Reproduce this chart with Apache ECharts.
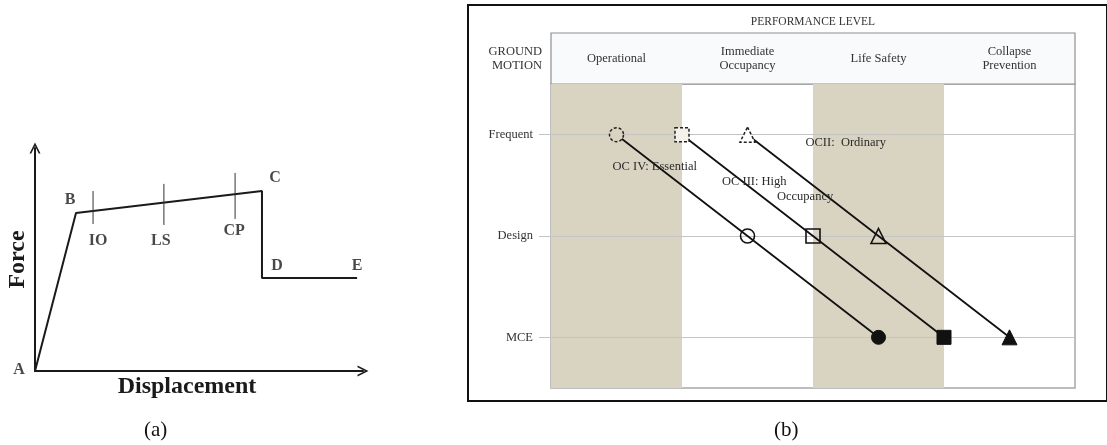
<!DOCTYPE html>
<html>
<head>
<meta charset="utf-8">
<script src="https://cdn.jsdelivr.net/npm/echarts@6/dist/echarts.min.js"></script>
<style>
    html, body { margin: 0; padding: 0; background: #fff; }
    #chart { width: 1107px; height: 445px; }
</style>
</head>
<body>
<div id="chart"></div>
<script>
// (a) force - displacement curve, axes run 0..10
const curveNames = ["A", "B", "C", "D", "E"];
const curveX = [0, 1.25, 6.92, 6.92, 9.82];
const curveY = [0, 7.09, 8.07, 4.17, 4.17];
const levelNames = ["IO", "LS", "CP"];
const levelX = [1.77, 3.93, 6.10];
const levelTop = [8.07, 8.39, 8.88];
const levelBottom = [6.59, 6.55, 6.82];

// (b) performance matrix
const perfLevels = ["Operational", "Immediate\nOccupancy", "Life Safety", "Collapse\nPrevention"];
const groundMotions = ["MCE", "Design", "Frequent"];
const objectiveNames = ["OC IV: Essential", "OC III: High Occupancy", "OCII:  Ordinary"];
// x position (in performance columns) for Frequent, Design, MCE
const essentialX = [0.5, 1.5, 2.5];
const highOccX = [1.0, 2.0, 3.0];
const ordinaryX = [1.5, 2.5, 3.5];
const motionRows = ["Frequent", "Design", "MCE"];
const shadedBands = [[0, 1], [2, 3]];

const serif = "Liberation Serif";
const shade = "#d9d3c1";
const arrow = "path://M0,10 L5,0 L10,10 L8.4,10 L5,3.2 L1.6,10 Z";

// label nudges, style only
const curveLabelOffset = [[-16, -1], [-6, -13], [13, -13], [15, -12], [0, -12]];
const levelLabelOffset = [[5, 17], [-3, 16], [-1, 12]];
const objectiveLabelOffset = [[-4, 32], [40, 55], [58, 8]];
const frequentFill = [shade, "#f3f1ea", "#ffffff"];
const shapes = ["circle", "rect", "triangle"];
const objectiveX = [essentialX, highOccX, ordinaryX];

let chart = echarts.init(document.getElementById("chart"));

let series = [];

/** (a) curve */
series.push({
    type: "line",
    xAxisIndex: 0,
    yAxisIndex: 0,
    symbol: "none",
    lineStyle: { color: "#1a1a1a", width: 2 },
    data: curveX.map((x, i) => [x, curveY[i]]),
    z: 3,
});
series.push({
    type: "scatter",
    xAxisIndex: 0,
    yAxisIndex: 0,
    symbolSize: 1,
    itemStyle: { color: "rgba(0,0,0,0)" },
    data: curveX.map((x, i) => ({
        value: [x, curveY[i]],
        label: {
            show: true,
            position: "inside",
            offset: curveLabelOffset[i],
            formatter: curveNames[i],
            fontFamily: serif,
            fontWeight: "bold",
            fontSize: 16,
            color: "#1a1a1a",
        },
    })),
    z: 4,
});
levelNames.forEach((name, i) => {
    series.push({
        type: "line",
        xAxisIndex: 0,
        yAxisIndex: 0,
        symbol: "none",
        lineStyle: { color: "#333", width: 1 },
        data: [[levelX[i], levelTop[i]], [levelX[i], levelBottom[i]]],
    });
});
series.push({
    type: "scatter",
    xAxisIndex: 0,
    yAxisIndex: 0,
    symbolSize: 1,
    itemStyle: { color: "rgba(0,0,0,0)" },
    data: levelX.map((x, i) => ({
        value: [x, levelBottom[i]],
        label: {
            show: true,
            position: "inside",
            offset: levelLabelOffset[i],
            formatter: levelNames[i],
            fontFamily: serif,
            fontWeight: "bold",
            fontSize: 16,
            color: "#1a1a1a",
        },
    })),
});

/** (b) shaded columns + row lines */
series.push({
    type: "line",
    xAxisIndex: 1,
    yAxisIndex: 1,
    data: [],
    z: 1,
    markArea: {
        silent: true,
        z: 1,
        itemStyle: { color: shade },
        data: shadedBands.map((b) => [{ xAxis: b[0] }, { xAxis: b[1] }]),
    },
});
series.push({
    type: "line",
    xAxisIndex: 1,
    yAxisIndex: 1,
    data: [],
    z: 1,
    markLine: {
        silent: true,
        z: 1,
        symbol: "none",
        label: { show: false },
        lineStyle: { color: "#c4c4c4", width: 1, type: "solid" },
        data: groundMotions.map((m, i) => ({ yAxis: i })),
    },
});

/** (b) performance objectives */
objectiveNames.forEach((name, s) => {
    series.push({
        name: name,
        type: "line",
        xAxisIndex: 1,
        yAxisIndex: 1,
        z: 6,
        lineStyle: { color: "#111", width: 1.8 },
        data: objectiveX[s].map((x, k) => {
            let row = groundMotions.indexOf(motionRows[k]);
            let item = {
                value: [x, row],
                symbol: shapes[s],
                symbolSize: s == 2 ? 15 : 14,
            };
            if (motionRows[k] == "Frequent") {
                item.itemStyle = { color: frequentFill[s], borderColor: "#222", borderWidth: 1.5, borderType: [3, 2] };
                item.label = {
                    show: true,
                    position: "inside",
                    align: "left",
                    verticalAlign: "middle",
                    offset: objectiveLabelOffset[s],
                    formatter: name.replace(" Occupancy", "\n{ind|Occupancy}"),
                    fontFamily: serif,
                    fontSize: 12.5,
                    color: "#2a2a2a",
                    lineHeight: 15,
                    rich: {
                        ind: { padding: [0, 0, 0, 55], fontFamily: serif, fontSize: 12.5, color: "#2a2a2a", lineHeight: 15 },
                    },
                };
            } else if (motionRows[k] == "Design") {
                item.itemStyle = { color: "rgba(0,0,0,0)", borderColor: "#111", borderWidth: 1.6 };
            } else {
                item.itemStyle = { color: "#111", borderColor: "#111", borderWidth: 1 };
            }
            return item;
        }),
    });
});

let option = {
    animation: false,
    backgroundColor: "#fff",
    title: [
        { text: "(a)", left: 144, top: 420, padding: 0, textStyle: { fontFamily: serif, fontWeight: "normal", fontSize: 21, color: "#111" } },
        { text: "(b)", left: 774, top: 420, padding: 0, textStyle: { fontFamily: serif, fontWeight: "normal", fontSize: 21, color: "#111" } },
    ],
    grid: [
        { left: 35, top: 148, width: 328, height: 223 },
        { left: 551, top: 84, width: 524, height: 304, show: true, borderColor: "#a8a8a8", borderWidth: 1.5 },
        { left: 551, top: 33, width: 524, height: 51, show: true, backgroundColor: "#f8fafc", borderColor: "#909090", borderWidth: 1.2 },
        { left: 468, top: 5, width: 660, height: 396, show: true, borderColor: "#111", borderWidth: 2 },
    ],
    xAxis: [
        {
            gridIndex: 0,
            type: "value",
            min: 0,
            max: 10,
            name: "Displacement",
            nameLocation: "middle",
            nameGap: 4,
            nameTextStyle: { fontFamily: serif, fontWeight: "bold", fontSize: 24, color: "#1a1a1a", padding: [0, 24, 0, 0] },
            axisLine: { show: true, symbol: ["none", arrow], symbolSize: [12, 11], lineStyle: { color: "#1a1a1a", width: 2 } },
            axisTick: { show: false },
            axisLabel: { show: false },
            splitLine: { show: false },
        },
        { gridIndex: 1, type: "value", min: 0, max: 4, show: false },
        {
            gridIndex: 2,
            type: "category",
            position: "top",
            data: perfLevels,
            name: "PERFORMANCE LEVEL",
            nameLocation: "middle",
            nameGap: 5,
            nameTextStyle: { fontFamily: serif, fontSize: 11.5, color: "#333" },
            axisLine: { show: false },
            axisTick: { show: false },
            axisLabel: { margin: -26, verticalAlign: "middle", fontFamily: serif, fontSize: 12.5, color: "#333", lineHeight: 14 },
            splitLine: { show: false },
        },
        { gridIndex: 3, type: "value", show: false },
    ],
    yAxis: [
        {
            gridIndex: 0,
            type: "value",
            min: 0,
            max: 10,
            name: "Force",
            nameLocation: "middle",
            nameRotate: 90,
            nameGap: 5,
            nameTextStyle: { fontFamily: serif, fontWeight: "bold", fontSize: 24, color: "#1a1a1a" },
            axisLine: { show: true, symbol: ["none", arrow], symbolSize: [12, 11], lineStyle: { color: "#1a1a1a", width: 2 } },
            axisTick: { show: false },
            axisLabel: { show: false },
            splitLine: { show: false },
        },
        {
            gridIndex: 1,
            type: "category",
            data: groundMotions,
            name: "GROUND\nMOTION",
            nameLocation: "end",
            nameGap: 11,
            nameTextStyle: { fontFamily: serif, fontSize: 12.5, color: "#333", align: "right", verticalAlign: "bottom", lineHeight: 14, padding: [0, 9, 0, 0] },
            axisLine: { show: false },
            axisTick: { show: true, alignWithLabel: true, length: 12, lineStyle: { color: "#c4c4c4" } },
            axisLabel: { margin: 18, fontFamily: serif, fontSize: 12.5, color: "#333" },
            splitLine: { show: false },
        },
        { gridIndex: 2, type: "value", show: false },
        { gridIndex: 3, type: "value", show: false },
    ],
    series: series,
};

chart.setOption(option);
</script>
</body>
</html>
